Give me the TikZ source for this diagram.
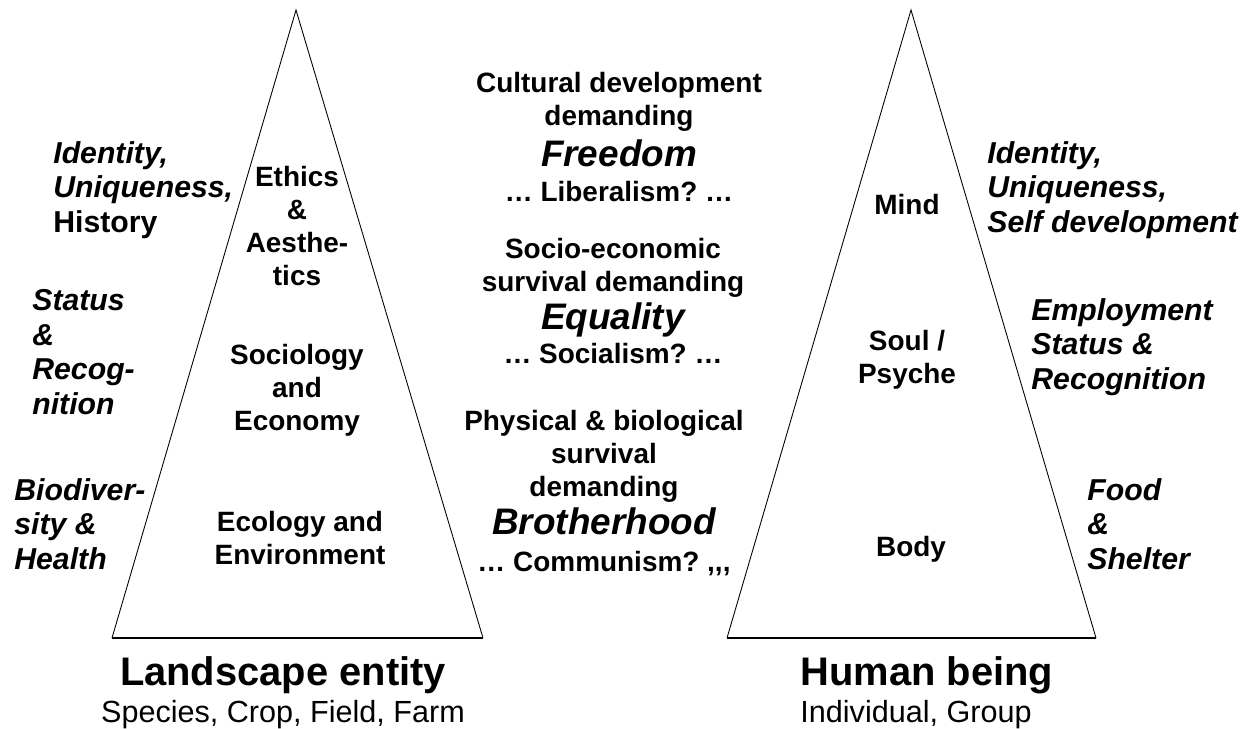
\documentclass[tikz,border=0pt]{standalone}
\usepackage{fontspec}
\setmainfont{Liberation Sans}
\frenchspacing

% the big italic key words in the middle column
\newcommand{\ideal}[1]{{\fontsize{21}{25}\selectfont\itshape #1}}

\begin{document}
\begin{tikzpicture}[scale=0.2,
  mid/.style={font=\fontsize{15.9}{18.7}\selectfont\bfseries, align=center},
  side/.style={font=\fontsize{17.2}{19.8}\selectfont\bfseries\itshape, align=left, anchor=west},
  title/.style={font=\fontsize{22.7}{27}\selectfont\bfseries},
  subtitle/.style={font=\fontsize{17.4}{20}\selectfont}]
\tikzstyle{every node}+=[inner sep=0pt]
\useasboundingbox (0,0) rectangle (125.2,-72.9);
% landscape pyramid
\draw [black, line width=0.5pt] (11.2,-63.8) -- (29.6,-1.0) -- (48.3,-63.8);
\draw [black, line width=1.1pt] (11.2,-63.8) -- (48.3,-63.8);
\draw (29.7,-22.6) node [mid] (ethics) {Ethics\\\&\\Aesthe-\\tics};
\draw (29.7,-39.0) node [mid] (sociology) {Sociology\\and\\Economy};
\draw (30.0,-53.8) node [mid] (ecology) {Ecology and\\Environment};
\draw (5.3,-19.0) node [side] (identityL) {Identity,\\Uniqueness,\\{\upshape History}};
\draw (3.2,-35.2) node [side] (statusL) {Status\\\&\\Recog-\\nition};
\draw (1.4,-52.4) node [side] (biodiv) {Biodiver-\\sity \&\\Health};
\draw (28.3,-67.5) node [title] (landscape) {Landscape entity};
\draw (28.3,-71.5) node [subtitle] (scales) {Species, Crop, Field, Farm};
% middle column
\draw (61.9,-13.7) node [mid] (freedom) {Cultural development\\demanding\\[4.6pt]\ideal{Freedom}\\[1.2pt]… Liberalism? …};
\draw (61.3,-30.1) node [mid] (equality) {Socio-economic\\survival demanding\\[3.4pt]\ideal{Equality}\\[0.6pt]… Socialism? …};
\draw (60.4,-49.3) node [mid] (brotherhood) {Physical \& biological\\survival\\demanding\\[3.4pt]\ideal{Brotherhood}\\[2.2pt]… Communism? {,}{,}{,}};
% human pyramid
\draw [black, line width=0.5pt] (72.7,-63.8) -- (91.1,-1.0) -- (109.6,-63.8);
\draw [black, line width=1.1pt] (72.7,-63.8) -- (109.6,-63.8);
\draw (90.7,-20.5) node [mid] (mind) {Mind};
\draw (90.7,-36.0) node [mid] (soul) {Soul /\\Psyche};
\draw (91.1,-54.9) node [mid] (body) {Body};
\draw (98.7,-19.0) node [side] (identityR) {Identity,\\Uniqueness,\\Self development};
\draw (103.1,-34.7) node [side] (employment) {Employment\\Status \&\\Recognition};
\draw (108.7,-52.4) node [side] (food) {Food\\\&\\Shelter};
\draw (92.7,-67.5) node [title] (human) {Human being};
\draw (91.6,-71.5) node [subtitle] (groups) {Individual, Group};
\end{tikzpicture}
\end{document}
